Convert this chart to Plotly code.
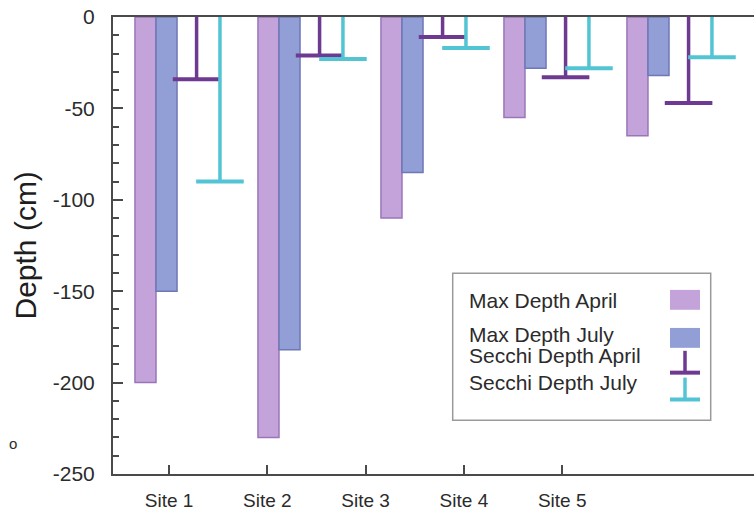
import plotly.graph_objects as go

# Sites and depths (cm, negative = below surface)
sites = ["Site 1", "Site 2", "Site 3", "Site 4", "Site 5"]
max_depth_april = [-200, -230, -110, -55, -65]
max_depth_july = [-150, -182, -85, -28, -32]
secchi_april = [-34, -21, -11, -33, -47]
secchi_july = [-90, -23, -17, -28, -22]

# depth axis ticks
y_tick_vals = [0, -50, -100, -150, -200, -250]
y_tick_labels = ["0", "-50", "-100", "-150", "-200", "-250"]

W, H = 754, 511
ML, MT, MR, MB = 113, 17, 0, 34
PW, PH = W - ML - MR, H - MT - MB

FONT = "Liberation Sans, Arial, sans-serif"
TXT = "#2b2b2b"
AXIS = "#4a4a4a"

C_APR_FILL, C_APR_LINE = "#c3a3d9", "#9a76b8"
C_JUL_FILL, C_JUL_LINE = "#919fd6", "#6e78b6"
C_SEC_APR = "#6e3a91"
C_SEC_JUL = "#52c4d4"

idx = list(range(len(sites)))
BAR_W = 0.171
OFF_SEC_APR = 0.33
OFF_SEC_JUL = 0.52

fig = go.Figure()

# empty trace so the labelled site axis is laid out
fig.add_trace(go.Scatter(x=idx, y=[None] * len(idx), mode="markers",
                         hoverinfo="skip", showlegend=False))

fig.add_trace(go.Bar(
    x=idx, y=max_depth_april, xaxis="x2", width=BAR_W, offset=-BAR_W,
    marker=dict(color=C_APR_FILL, line=dict(color=C_APR_LINE, width=1.5)),
    name="Max Depth April", showlegend=False))
fig.add_trace(go.Bar(
    x=idx, y=max_depth_july, xaxis="x2", width=BAR_W, offset=0,
    marker=dict(color=C_JUL_FILL, line=dict(color=C_JUL_LINE, width=1.5)),
    name="Max Depth July", showlegend=False))


def secchi_trace(vals, off, color, name):
    # stem from the surface down to the Secchi depth, capped with a bar
    return go.Scatter(
        x=[i + off for i in idx], y=vals, xaxis="x2", mode="markers",
        marker=dict(symbol="line-ew", size=34, line=dict(color=color, width=4)),
        error_y=dict(type="data", symmetric=False,
                     array=[-v for v in vals], arrayminus=[0] * len(vals),
                     width=0, thickness=3.5, color=color),
        name=name, showlegend=False, cliponaxis=False)


fig.add_trace(secchi_trace(secchi_april, OFF_SEC_APR, C_SEC_APR, "Secchi Depth April"))
fig.add_trace(secchi_trace(secchi_july, OFF_SEC_JUL, C_SEC_JUL, "Secchi Depth July"))


def px_x(px):
    return (px - ML) / PW


def px_y(py):
    return (MT + PH - py) / PH


shapes = []
annotations = []

# legend box
shapes.append(dict(type="rect", xref="paper", yref="paper",
                   x0=px_x(452.7), x1=px_x(710.7), y0=px_y(423), y1=px_y(275),
                   line=dict(color="#9a9a9a", width=1.5), fillcolor="white", layer="above"))

legend_rows = [
    ("Max Depth April", 302),
    ("Max Depth July", 337),
    ("Secchi Depth April", 358),
    ("Secchi Depth July", 385),
]
for text, py in legend_rows:
    annotations.append(dict(text=text, xref="paper", yref="paper",
                            x=px_x(467), y=px_y(py), xanchor="left", yanchor="middle",
                            showarrow=False, font=dict(family=FONT, size=21, color=TXT)))

# legend swatches
shapes.append(dict(type="rect", xref="paper", yref="paper",
                   x0=px_x(670), x1=px_x(700), y0=px_y(311.7), y1=px_y(291.7),
                   fillcolor=C_APR_FILL, line=dict(width=0), layer="above"))
shapes.append(dict(type="rect", xref="paper", yref="paper",
                   x0=px_x(670), x1=px_x(700), y0=px_y(350), y1=px_y(330),
                   fillcolor=C_JUL_FILL, line=dict(width=0), layer="above"))
for color, top, bot in [(C_SEC_APR, 353, 375), (C_SEC_JUL, 380, 402)]:
    shapes.append(dict(type="line", xref="paper", yref="paper",
                       x0=px_x(685), x1=px_x(685), y0=px_y(top), y1=px_y(bot),
                       line=dict(color=color, width=3.5), layer="above"))
    shapes.append(dict(type="line", xref="paper", yref="paper",
                       x0=px_x(670), x1=px_x(700), y0=px_y(bot), y1=px_y(bot),
                       line=dict(color=color, width=4), layer="above"))

# y-axis title and small mark beside the axis
annotations.append(dict(text="Depth (cm)", xref="paper", yref="paper",
                        x=px_x(25), y=px_y(247), xanchor="center", yanchor="middle",
                        textangle=-90, showarrow=False,
                        font=dict(family=FONT, size=30, color="#1e1e1e")))
annotations.append(dict(text="o", xref="paper", yref="paper",
                        x=px_x(12.5), y=px_y(446), xanchor="center", yanchor="middle",
                        showarrow=False, font=dict(family=FONT, size=15, color=TXT)))

fig.update_layout(
    width=W, height=H,
    margin=dict(l=ML, r=MR, t=MT, b=MB, pad=0),
    paper_bgcolor="white", plot_bgcolor="white",
    barmode="overlay",
    font=dict(family=FONT, color=TXT),
    xaxis=dict(range=[-0.570, 5.951], tickmode="array", tickvals=idx, ticktext=sites,
               ticks="inside", ticklen=9, tickwidth=2, tickcolor=AXIS,
               showline=True, linecolor=AXIS, linewidth=2, mirror=True,
               showgrid=False, zeroline=False, ticklabelstandoff=8,
               tickfont=dict(family=FONT, size=19, color=TXT)),
    xaxis2=dict(range=[-0.3496, 4.862], overlaying="x", visible=False),
    yaxis=dict(range=[-250, 0], tickmode="array", tickvals=y_tick_vals, ticktext=y_tick_labels,
               ticks="inside", ticklen=10, tickwidth=2, tickcolor=AXIS,
               minor=dict(ticks="inside", dtick=10, tick0=0, ticklen=6, tickwidth=1.5,
                          tickcolor=AXIS),
               showline=True, linecolor=AXIS, linewidth=2,
               showgrid=False, zeroline=False, ticklabelstandoff=12,
               tickfont=dict(family=FONT, size=21, color=TXT)),
    shapes=shapes, annotations=annotations,
)

fig.write_html("out.html")
